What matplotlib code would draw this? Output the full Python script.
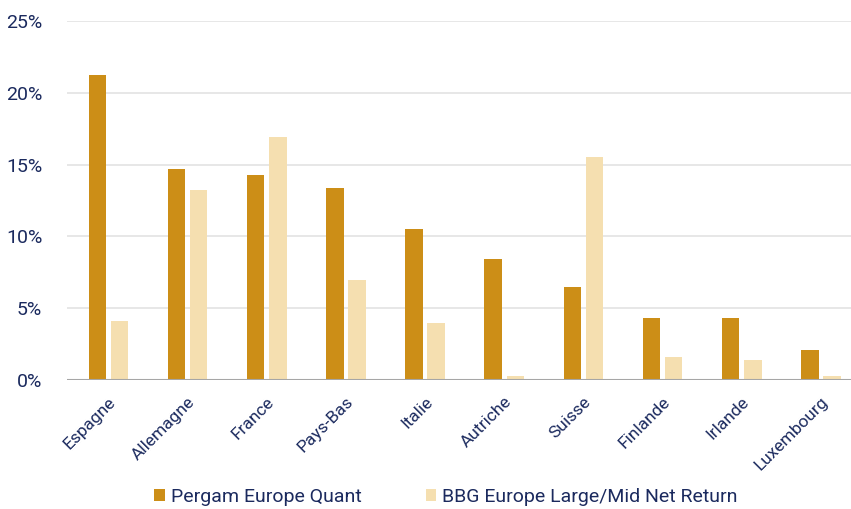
import numpy as np
import matplotlib.pyplot as plt
from matplotlib.ticker import FuncFormatter

plt.rcParams['font.family'] = ['Roboto', 'DejaVu Sans']

pays = ['Espagne', 'Allemagne', 'France', 'Pays-Bas', 'Italie', 'Autriche',
        'Suisse', 'Finlande', 'Irlande', 'Luxembourg']
pergam = [21.2, 14.7, 14.3, 13.4, 10.5, 8.4, 6.5, 4.3, 4.3, 2.1]
bbg = [4.1, 13.2, 16.9, 7.0, 4.0, 0.3, 15.5, 1.6, 1.4, 0.3]

navy = '#1B2A5E'
fonce = '#CC8E17'
clair = '#F5DFB0'

fig = plt.figure(figsize=(8.51, 5.09), dpi=100)
ax = fig.add_axes([0.079, 0.253, 0.921, 0.706])

x = np.arange(len(pays))
w = 0.22
ax.bar(x - 0.14, pergam, w, color=fonce, label='Pergam Europe Quant', zorder=3)
ax.bar(x + 0.14, bbg, w, color=clair, label='BBG Europe Large/Mid Net Return', zorder=3)

ax.set_xlim(-0.52, 9.38)
ax.set_ylim(0, 25)
ax.set_yticks(np.arange(0, 26, 5))
ax.yaxis.set_major_formatter(FuncFormatter(lambda v, p: f'{v:.0f}%'))
ax.grid(axis='y', color='#E3E3E3', linewidth=1.2, zorder=0)
ax.axhline(0, color='#A6A6A6', linewidth=1.5, zorder=4)

for s in ax.spines.values():
    s.set_visible(False)
ax.tick_params(axis='both', length=0, colors=navy)
ax.tick_params(axis='y', pad=18, labelsize=14)
ax.tick_params(axis='x', pad=10)
ax.set_xticks(x)
ax.set_xticklabels(pays, rotation=45, ha='right', rotation_mode='anchor', color=navy, fontsize=12.5)

leg = fig.legend(loc='lower center', ncol=2, frameon=False, bbox_to_anchor=(0.524, -0.028),
                 fontsize=14, handlelength=0.55, handleheight=0.55, handletextpad=0.3,
                 columnspacing=3.3)
for t in leg.get_texts():
    t.set_color(navy)

plt.savefig('out.png', dpi=100)
